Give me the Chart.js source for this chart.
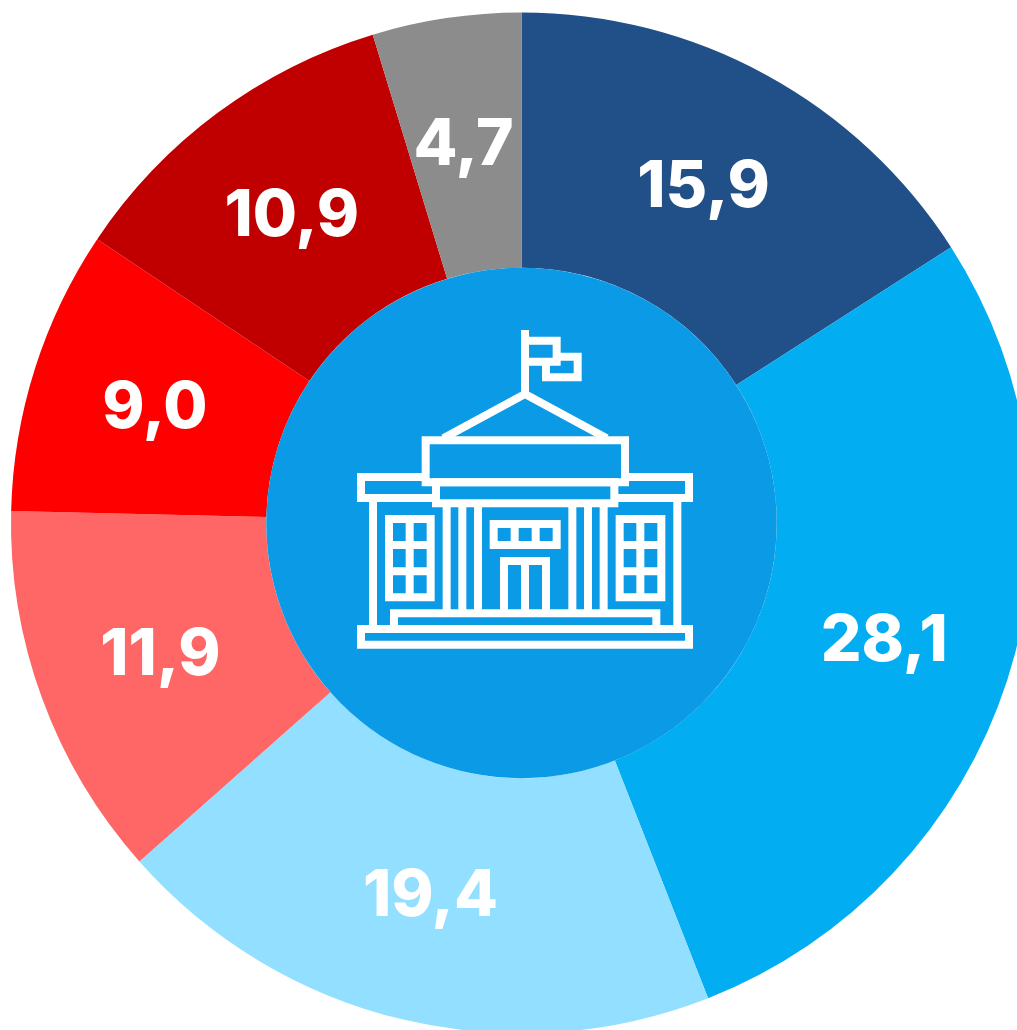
<!DOCTYPE html>
<html>
<head>
<meta charset="utf-8">
<style>
html,body{margin:0;padding:0;background:#fff;overflow:hidden;width:1017px;height:1030px}
canvas{position:absolute;left:0;top:0}
</style>
<script src="https://cdn.jsdelivr.net/npm/chart.js@4"></script>
</head>
<body>
<canvas id="c" width="1043" height="1046"></canvas>
<script>
const categories = ["A","B","C","D","E","F","G"];
const values = [15.9,28.1,19.4,11.9,9.0,10.9,4.7];
const tickLabels = ["15,9","28,1","19,4","11,9","9,0","10,9","4,7"];
const colors = ["#215088","#02AEF1","#93DFFF","#FF6666","#FF0000","#C00000","#8C8C8C"];

function drawIcon(ctx){
  const X=x=>340+x/3, Y=y=>320+y/3;
  const poly=(pts,close)=>{
    ctx.beginPath();
    pts.forEach((p,i)=>i?ctx.lineTo(X(p[0]),Y(p[1])):ctx.moveTo(X(p[0]),Y(p[1])));
    if(close)ctx.closePath();
    ctx.stroke();
  };
  const rect=(a,b,c,d)=>poly([[a,b],[c,b],[c,d],[a,d]],true);
  ctx.save();
  ctx.strokeStyle="#fff";ctx.lineWidth=8;ctx.lineJoin="miter";ctx.lineCap="butt";
  poly([[555,30],[555,225]]);
  poly([[555,62],[650,62],[650,125],[555,125]]);
  poly([[650,110],[713,110],[713,172],[618,172],[618,125]]);
  poly([[310,355],[555,222],[800,355]]);
  rect(257,361,855,487);
  rect(288,487,823,550);
  poly([[257,471],[63,471],[63,534],[288,534]]);
  poly([[855,471],[1047,471],[1047,534],[823,534]]);
  poly([[99,534],[99,927]]);
  poly([[1012,534],[1012,927]]);
  [320,367,414,697,744,791].forEach(x=>poly([[x,550],[x,880]]));
  [147,839].forEach(x0=>{
    rect(x0,597,x0+125,832);
    poly([[x0+62,597],[x0+62,832]]);
    poly([[x0,675],[x0+125,675]]);
    poly([[x0,754],[x0+125,754]]);
  });
  rect(461,612,650,675);
  poly([[524,612],[524,675]]);
  poly([[587,612],[587,675]]);
  poly([[492,880],[492,723],[618,723],[618,880]]);
  poly([[555,723],[555,880]]);
  poly([[162,927],[162,880],[949,880],[949,927]]);
  rect(63,927,1047,974);
  ctx.restore();
}

const overlay = {
  id:"overlay",
  afterDatasetsDraw(chart){
    const ctx=chart.ctx, arcs=chart.getDatasetMeta(0).data;
    const a0=arcs[0];
    ctx.save();
    ctx.fillStyle="#0B9BE6";
    ctx.beginPath();
    ctx.arc(a0.x,a0.y,a0.innerRadius,0,Math.PI*2);
    ctx.fill();
    drawIcon(ctx);
    ctx.fillStyle="#fff";
    ctx.font="800 64px Inter, sans-serif";
    ctx.textAlign="center";
    ctx.textBaseline="middle";
    arcs.forEach((a,i)=>{
      const p=a.getCenterPoint();
      ctx.fillText(tickLabels[i],p.x-1.5,p.y+1);
    });
    ctx.restore();
  }
};

new Chart(document.getElementById("c"),{
  type:"doughnut",
  data:{labels:categories,datasets:[{data:values,backgroundColor:colors,borderWidth:0}]},
  options:{
    responsive:false,animation:false,cutout:"50%",
    layout:{padding:{left:11,right:11,top:12.5,bottom:12.5}},
    plugins:{legend:{display:false},tooltip:{enabled:false}},
    events:[]
  },
  plugins:[overlay]
});
</script>
</body>
</html>
